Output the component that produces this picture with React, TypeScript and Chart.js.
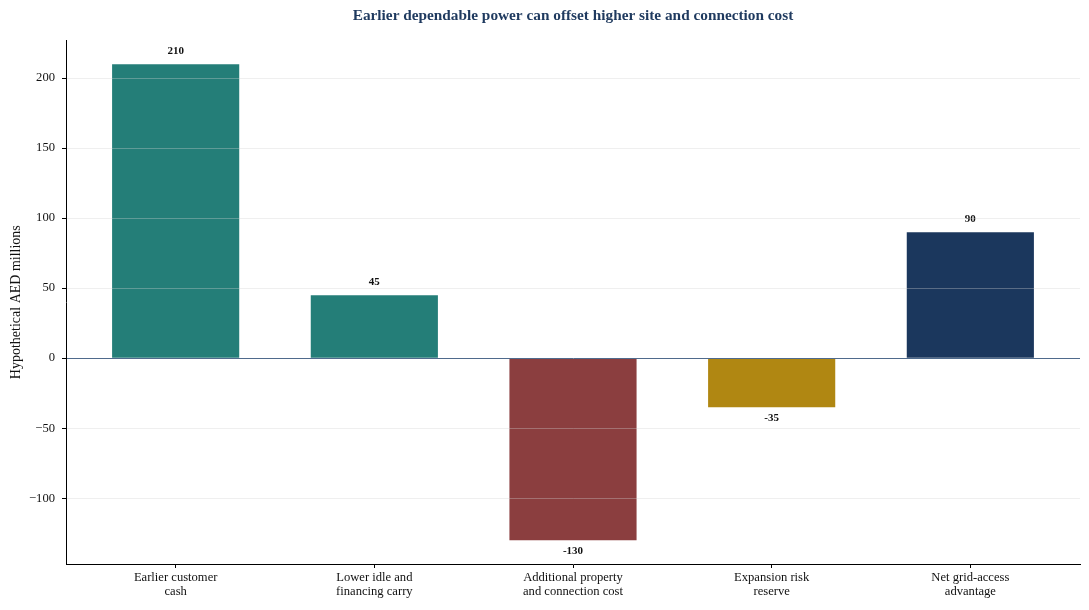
import { useEffect, useRef } from "react";
import Chart from "chart.js/auto";

const categories = [
  ["Earlier customer", "cash"],
  ["Lower idle and", "financing carry"],
  ["Additional property", "and connection cost"],
  ["Expansion risk", "reserve"],
  ["Net grid-access", "advantage"],
];
const values = [210, 45, -130, -35, 90];
const barColors = ["#247E78", "#247E78", "#8B3E3F", "#B08712", "#1B375D"];
const yTicks = [-100, -50, 0, 50, 100, 150, 200];

const FONT = "'Liberation Serif', 'Times New Roman', serif";

const valueLabels = {
  id: "valueLabels",
  afterDatasetsDraw(chart: any) {
    const ctx = chart.ctx;
    const meta = chart.getDatasetMeta(0);
    ctx.save();
    ctx.font = `bold 11px ${FONT}`;
    ctx.fillStyle = "#111";
    ctx.textAlign = "center";
    meta.data.forEach((bar: any, i: number) => {
      const v = values[i];
      if (v >= 0) {
        ctx.textBaseline = "bottom";
        ctx.fillText(String(v), bar.x, bar.y - 8);
      } else {
        ctx.textBaseline = "top";
        ctx.fillText(String(v), bar.x, bar.y + 5);
      }
    });
    ctx.restore();
  },
};

export default function App() {
  const canvasRef = useRef<HTMLCanvasElement | null>(null);

  useEffect(() => {
    document.body.style.margin = "0";
    if (!canvasRef.current) return;
    const chart = new Chart(canvasRef.current, {
      type: "bar",
      data: {
        datasets: [
          {
            data: values.map((v, i) => ({ x: i, y: v })),
            backgroundColor: barColors,
            barPercentage: 0.64,
            categoryPercentage: 1,
          },
        ],
      },
      options: {
        animation: false,
        responsive: true,
        maintainAspectRatio: false,
        events: [],
        layout: { padding: { left: 4, right: 9, top: 0, bottom: 0 } },
        plugins: {
          legend: { display: false },
          tooltip: { enabled: false },
          title: {
            display: true,
            text: "Earlier dependable power can offset higher site and connection cost",
            color: "#1F3A5F",
            fullSize: false,
            font: { family: FONT, size: 15.3, weight: "bold" },
            padding: { top: 7, bottom: 15 },
          },
        },
        scales: {
          x: {
            type: "linear",
            offset: false,
            min: -0.552,
            max: 4.552,
            afterBuildTicks: (scale: any) => {
              scale.ticks = categories.map((_, i) => ({ value: i }));
            },
            afterFit: (scale: any) => {
              scale.height = 46;
            },
            ticks: {
              autoSkip: false,
              maxRotation: 0,
              color: "#111",
              padding: 3,
              font: { family: FONT, size: 12.6, lineHeight: 1.1 },
              callback: (v: any) => categories[v as number] ?? "",
            },
            grid: {
              offset: false,
              drawOnChartArea: false,
              color: "rgba(0,0,0,0)",
              tickColor: "#000",
              tickLength: 4,
            },
            border: { display: true, color: "#000", width: 1, z: 1 },
          },
          y: {
            min: -147,
            max: 227,
            afterBuildTicks: (scale: any) => {
              scale.ticks = yTicks.map((v) => ({ value: v }));
            },
            afterFit: (scale: any) => {
              scale.width = 62;
            },
            title: {
              display: true,
              text: "Hypothetical AED millions",
              color: "#111",
              font: { family: FONT, size: 14 },
              padding: { top: 4, bottom: 6 },
            },
            ticks: {
              color: "#111",
              padding: 7,
              font: { family: FONT, size: 12.6 },
              callback: (v: any) => (v < 0 ? "\u2212" + Math.abs(v) : String(v)),
            },
            grid: {
              z: 1,
              color: (c: any) =>
                c.tick && c.tick.value === 0 ? "#4F6A8C" : "rgba(210,210,210,0.35)",
              tickColor: "#000",
              tickLength: 4,
            },
            border: { display: true, color: "#000", width: 1, z: 1 },
          },
        },
      },
      plugins: [valueLabels],
    });
    return () => chart.destroy();
  }, []);

  return (
    <div style={{ width: 1089, height: 610, background: "#fff" }}>
      <canvas ref={canvasRef} />
    </div>
  );
}
